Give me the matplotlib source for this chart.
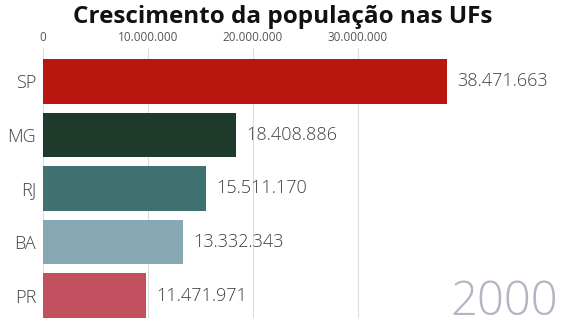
import matplotlib.pyplot as plt
import numpy as np

plt.rcParams['font.family'] = ['Open Sans', 'DejaVu Sans']

# dados (quadro do ano 2000 da animação)
ufs = ['SP', 'MG', 'RJ', 'BA', 'PR']
populacao = [38471663, 18408886, 15511170, 13332343, 11471971]
# comprimento das barras no quadro (PR ainda a crescer)
barras = [38471663, 18408886, 15511170, 13332343, 9800000]
cores = ['#b8170f', '#1e3a2b', '#3e7170', '#87a8b2', '#c24f5d']
ano = '2000'
ticks = [0, 10000000, 20000000, 30000000]


def fmt(v):
    return '{:,}'.format(v).replace(',', '.')


fig = plt.figure(figsize=(5.66, 3.18), dpi=100)
fig.patch.set_facecolor('white')
ax = fig.add_axes([43 / 566, 0, 523 / 566, 266 / 318])

y = np.arange(len(ufs))
ax.barh(y, barras, height=0.83, color=cores, zorder=2)
for i, v in enumerate(populacao):
    ax.text(barras[i] + 950000, i, fmt(v), va='center', ha='left', fontsize=13,
            color='#404040', fontweight='light')

ax.set_xlim(0, 49800000)
ax.set_ylim(4.42, -0.55)
ax.set_yticks(y)
ax.set_yticklabels(ufs, fontsize=13, color='#404040', fontweight='light')
ax.set_xticks(ticks)
ax.set_xticklabels([fmt(t) for t in ticks], fontsize=8.5, color='#555555')
ax.xaxis.tick_top()
ax.tick_params(axis='x', length=3, color='#dddddd', pad=3)
ax.tick_params(axis='y', length=0, pad=5)
ax.grid(axis='x', color='#dddddd', linewidth=0.8, zorder=0)
for s in ax.spines.values():
    s.set_visible(False)

fig.text(0.5, 0.984, 'Crescimento da população nas UFs', ha='center', va='top',
         fontsize=17.5, fontweight='bold', color='#111111')
fig.text(0.985, 3 / 318, ano, ha='right', va='baseline', fontsize=34,
         color='#b4b4c2', fontweight='light')

fig.savefig('out.png', dpi=100)
